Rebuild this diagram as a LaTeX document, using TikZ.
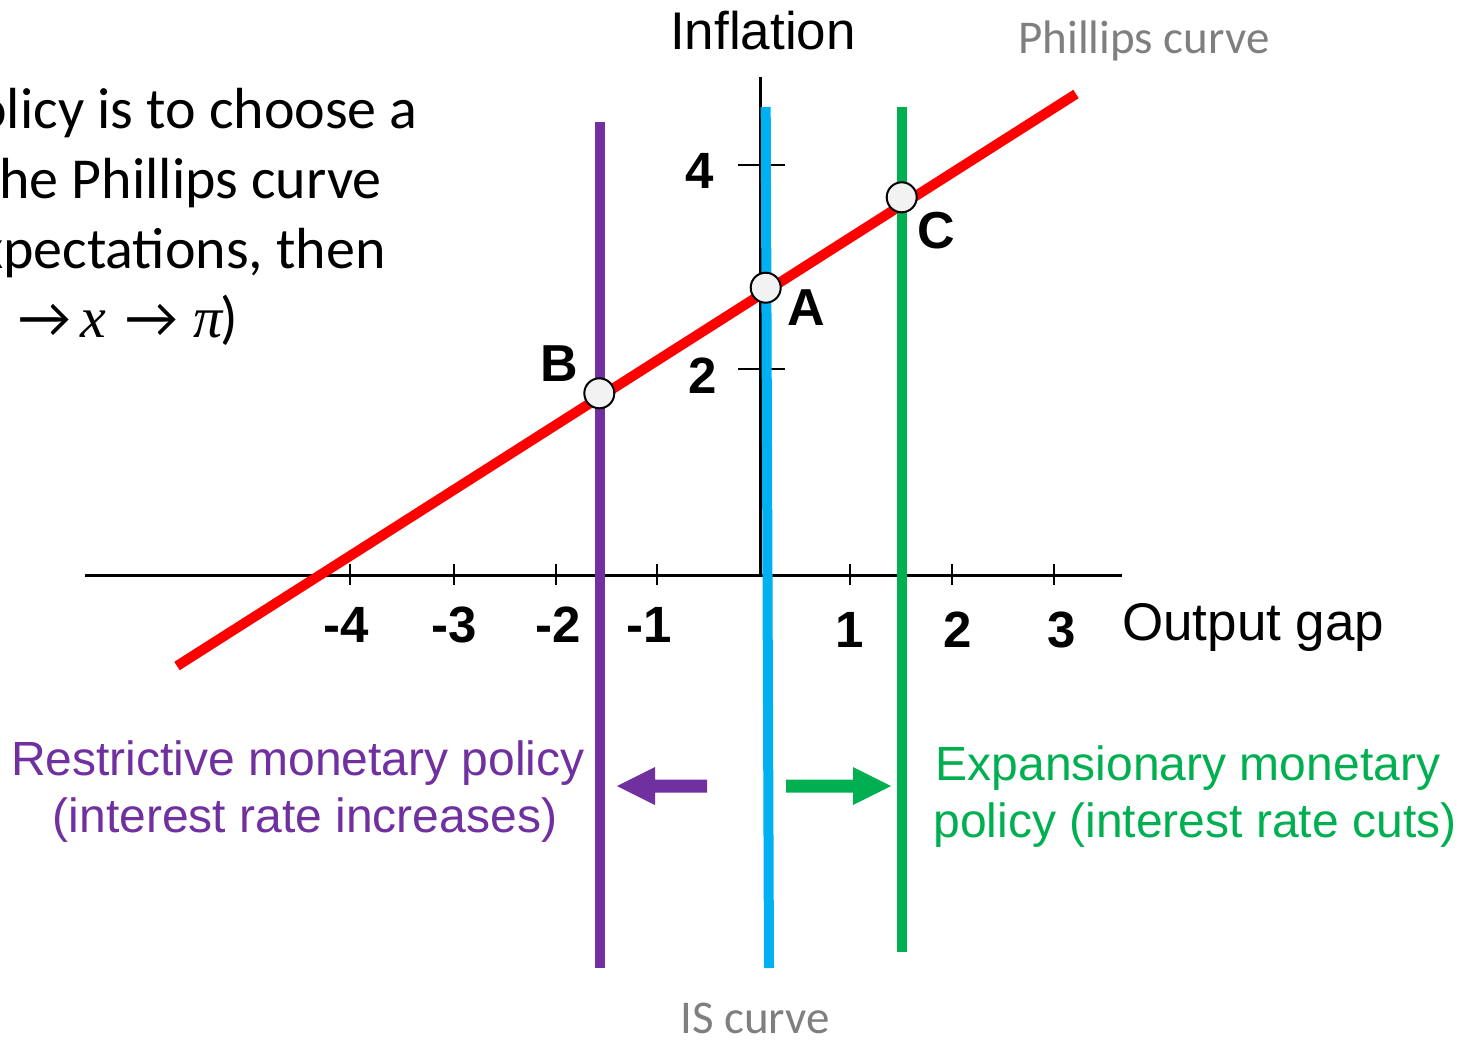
\documentclass[tikz,border=0pt]{standalone}
\usepackage{fontspec}
\usepackage{graphicx}
\setmainfont{Liberation Sans}
\newfontfamily\calfont{Carlito}
\newfontfamily\serfont{Liberation Serif}
\newcommand\setfs[1]{\fontsize{#1}{#1}\selectfont}
\newcommand\bigarr{{\calfont\setfs{58}→}}
\definecolor{pcred}{HTML}{FF0000}
\definecolor{rpurple}{HTML}{7030A0}
\definecolor{isblue}{HTML}{00B0F0}
\definecolor{egreen}{HTML}{00B050}
\definecolor{lblgray}{HTML}{7F7F7F}
\definecolor{ptfill}{HTML}{F2F2F2}
\tikzset{
  axisline/.style={draw=black,line width=3pt},
  tickline/.style={draw=black,line width=2pt},
  ticklbl/.style={font=\setfs{51}\bfseries,anchor=base,inner sep=0pt},
  ptlbl/.style={font=\setfs{52}\bfseries,anchor=base,inner sep=0pt},
  curvelbl/.style={font=\calfont\setfs{47},text=lblgray,anchor=base,inner sep=0pt},
  bodytxt/.style={font=\calfont\setfs{58},anchor=base east,inner sep=0pt},
  policytxt/.style={font=\setfs{48},anchor=base,inner sep=0pt,align=center},
  ptcircle/.style={circle,draw=black,line width=2pt,fill=ptfill,minimum size=30pt,inner sep=0pt},
  vline/.style={line width=10pt}
}
\begin{document}
\begin{tikzpicture}[x=1pt,y=-1pt]
\useasboundingbox (0,0) rectangle (1470,1042);
\clip (0,0) rectangle (1470,1042);
\fill[white] (0,0) rectangle (1470,1042);

% top-left text (clipped at the left edge, as in the reference)
\node[bodytxt] (t1) at (418,128) {policy is to choose a};
\node[bodytxt] (t2) at (382,198) {the Phillips curve};
\node[bodytxt] (t3) at (386,268) {expectations, then};
\node[font=\calfont\setfs{58},anchor=base west,inner sep=0pt] (t4) at (18,337)
  {\rlap{\bigarr}\hspace*{62pt}\rlap{\serfont\itshape x}\hspace*{45pt}\rlap{\bigarr}\hspace*{68pt}{\serfont\itshape π}\kern-2pt)};

% axes
\coordinate (xl) at (85,575);
\coordinate (xr) at (1122,575);
\coordinate (yb) at (760.5,575);
\coordinate (yt) at (760.5,77);
\draw[axisline] (xl) -- (xr);
\draw[axisline] (yb) -- (yt);
\foreach \xx in {350,454,556,657,850,952,1054}{
  \draw[tickline] (\xx,564) -- (\xx,585);
}
\draw[tickline] (738,165) -- (785,165);
\draw[tickline] (738,369) -- (785,369);

\node[ticklbl] (lm4) at (346,642) {-4};
\node[ticklbl] (lm3) at (454,642) {-3};
\node[ticklbl] (lm2) at (558,642) {-2};
\node[ticklbl] (lm1) at (649,642) {-1};
\node[ticklbl] (lp1) at (850,647) {1};
\node[ticklbl] (lp2) at (958,647) {2};
\node[ticklbl] (lp3) at (1062,647) {3};
\node[ticklbl] (l4) at (700,188) {4};
\node[ticklbl] (l2) at (703,393) {2};

\node[font=\setfs{53},anchor=base west,inner sep=0pt] (xlab) at (1122,640) {Output gap};
\node[font=\setfs{53},anchor=base,inner sep=0pt] (ylab) at (763,49) {Inflation};

% Phillips curve
\coordinate (pc1) at (177,666);
\coordinate (pc2) at (1076,94);
\draw[draw=pcred,line width=10pt] (pc1) -- (pc2);

% vertical lines
\coordinate (pu1) at (599.5,122);
\coordinate (pu2) at (599.5,968);
\coordinate (bl1) at (765.7,107);
\coordinate (bl2) at (769,968);
\coordinate (gr1) at (902,107);
\coordinate (gr2) at (902,952);
\draw[vline,draw=rpurple] (pu1) -- (pu2);
\draw[vline,draw=isblue] (bl1) -- (bl2);
\draw[vline,draw=egreen] (gr1) -- (gr2);

% points
\node[ptcircle] (A) at (765.7,287.7) {};
\node[ptcircle] (B) at (599.3,393.3) {};
\node[ptcircle] (C) at (901.7,197.3) {};
\node[ptlbl] (Alab) at (806.5,325) {A};
\node[ptlbl] (Blab) at (559,381.5) {B};
\node[ptlbl] (Clab) at (936,248) {C};

% curve labels
\node[curvelbl] (pclab) at (1144,53) {Phillips curve};
\node[curvelbl] (islab) at (755,1033) {IS curve};

% policy texts
\node[policytxt,text=rpurple] (rp1) at (298,775) {Restrictive monetary policy};
\node[policytxt,text=rpurple] (rp2) at (305,832) {(interest rate increases)};
\node[policytxt,text=egreen] (ep1) at (1188,780) {Expansionary monetary};
\node[policytxt,text=egreen] (ep2) at (1195,837) {policy (interest rate cuts)};

% block arrows
\fill[rpurple] (707,779.5) -- (655,779.5) -- (655,767) -- (617,786) -- (655,805) -- (655,792.5) -- (707,792.5) -- cycle;
\fill[egreen] (786,779.5) -- (853,779.5) -- (853,767) -- (891,786) -- (853,805) -- (853,792.5) -- (786,792.5) -- cycle;
\end{tikzpicture}
\end{document}
